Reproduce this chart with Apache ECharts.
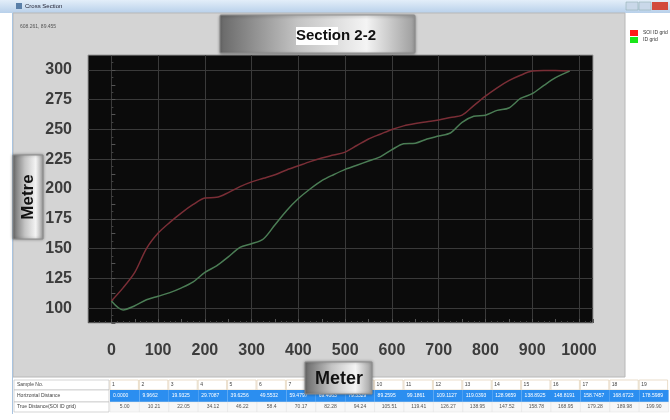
<!DOCTYPE html>
<html><head><meta charset="utf-8">
<script src="https://cdn.jsdelivr.net/npm/echarts@6/dist/echarts.min.js"></script>
<style>html,body{margin:0;padding:0;background:#fff}#c{width:670px;height:420px}</style>
</head><body><div id="c"></div>
<script>
// ---- data ----
const distance = [0,25,50,75,100,125,150,175,200,225,250,275,300,325,350,375,400,425,450,475,500,525,550,575,600,625,650,675,700,725,750,775,800,825,850,875,900,925,950,980];
const redValues = [106,117,130,150,163,172,180,187,192.5,193,197,202,206,209,212,216,219.5,223,226,228.5,231,236.5,242,246,250,253,255,256.5,258,260,262,270,278,285,291,295.5,299,299.5,299.5,299];
const greenValues = [106,98.5,102,107,110,113,117,122,130,135.5,143,151,154,158,170,182,192,200,207,212,216.5,220,223.5,227,233,238,238.5,242,244.5,247,256,261,262,266,268,276,280,287,293.5,299];
const seriesNames = ['SOI ID grid','ID grid'];
const xTicks = [0,100,200,300,400,500,600,700,800,900,1000];
const yTicks = [100,125,150,175,200,225,250,275,300];
const sampleNo = ['1','2','3','4','5','6','7','8','9','10','11','12','13','14','15','16','17','18','19'];
const horizDist = ['0.0000','9.9662','19.9325','29.7087','39.6256','49.5532','59.4797','69.4063','79.3329','89.2595','99.1861','109.1127','119.0393','128.9659','138.8925','148.8191','158.7457','168.6723','178.5989'];
const trueDist = ['5.00','10.21','22.05','34.12','46.22','58.4','70.17','82.28','94.24','105.51','119.41','126.27','138.95','147.52','158.78','168.95','179.28','189.98','199.90'];
const rowLabels = ['Sample No.','Horizontal Distance','True Distance(SOI ID grid)'];

const G = echarts.graphic;
function btnGrad(){
  return new G.LinearGradient(0,0,1,0,[
    {offset:0,color:'#686868'},{offset:0.4,color:'#c4c4c4'},
    {offset:0.75,color:'#f4f4f4'},{offset:1,color:'#9c9c9c'}]);
}
const els = [];
// window title bar
els.push({type:'rect',z:-10,shape:{x:0,y:0,width:670,height:13},
  style:{fill:new G.LinearGradient(0,0,0,1,[{offset:0,color:'#e3eef9'},{offset:1,color:'#b8d0ea'}])}});
els.push({type:'rect',z:-9,shape:{x:16,y:3,width:6,height:6},style:{fill:'#5a7fa8'}});
els.push({type:'text',z:-9,x:25,y:6.5,style:{text:'Cross Section',fontSize:6,fill:'#223',verticalAlign:'middle',fontFamily:'Liberation Sans'}});
els.push({type:'rect',z:-9,shape:{x:626,y:2,width:12,height:8},style:{fill:'#c9d8e9',stroke:'#8aa',lineWidth:0.5}});
els.push({type:'rect',z:-9,shape:{x:639,y:2,width:12,height:8},style:{fill:'#c9d8e9',stroke:'#8aa',lineWidth:0.5}});
els.push({type:'rect',z:-9,shape:{x:652,y:2,width:16,height:8},style:{fill:'#d24a3c'}});
// window left border
els.push({type:'line',z:-9,shape:{x1:12.5,y1:13,x2:12.5,y2:414},style:{stroke:'#a9c4e0',lineWidth:1}});
// grey panel
els.push({type:'rect',z:-10,shape:{x:13,y:13,width:612,height:364},style:{fill:'#d4d4d4',stroke:'#b8b8b8',lineWidth:1}});
els.push({type:'text',z:-9,x:20,y:27,style:{text:'608.261, 89.455',fontSize:5,fill:'#555',verticalAlign:'middle',fontFamily:'Liberation Sans'}});
// title button
els.push({type:'rect',z:50,shape:{x:220,y:15,width:195,height:38,r:1},
  style:{fill:btnGrad(),stroke:'#8c8c8c',lineWidth:1,shadowBlur:3,shadowColor:'rgba(0,0,0,0.35)',shadowOffsetY:1}});
els.push({type:'rect',z:51,shape:{x:296,y:27,width:42,height:18},style:{fill:'#ffffff'}});
els.push({type:'text',z:52,x:336,y:36,style:{text:'Section 2-2',fontSize:15,fontWeight:'bold',fill:'#111',align:'center',verticalAlign:'middle',fontFamily:'Liberation Sans'}});
// Metre button
els.push({type:'rect',z:50,shape:{x:13,y:155,width:30,height:84},
  style:{fill:btnGrad(),stroke:'#8c8c8c',lineWidth:1,shadowBlur:3,shadowColor:'rgba(0,0,0,0.35)'}});
els.push({type:'text',z:52,x:28,y:197,rotation:Math.PI/2,style:{text:'Metre',fontSize:17,fontWeight:'bold',fill:'#111',align:'center',verticalAlign:'middle',fontFamily:'Liberation Sans'}});
// table
const rowTop = [380,390,402], rowH = [10,12,10];
const colX0 = 110, colW = 29.4;
for (let r=0;r<3;r++){
  els.push({type:'rect',z:20,shape:{x:14,y:rowTop[r],width:95,height:rowH[r]},style:{fill:'#fff',stroke:'#b9b9b9',lineWidth:0.6}});
  els.push({type:'text',z:21,x:17,y:rowTop[r]+rowH[r]/2,style:{text:rowLabels[r],fontSize:5,fill:'#444',verticalAlign:'middle',fontFamily:'Liberation Sans'}});
}
for (let i=0;i<sampleNo.length;i++){
  const x = colX0 + i*colW;
  els.push({type:'rect',z:20,shape:{x:x,y:rowTop[0],width:colW-1,height:rowH[0]},style:{fill:'#fff',stroke:'#dcc7a8',lineWidth:0.6}});
  els.push({type:'text',z:21,x:x+2,y:rowTop[0]+rowH[0]/2,style:{text:sampleNo[i],fontSize:5,fill:'#444',verticalAlign:'middle',fontFamily:'Liberation Sans'}});
  els.push({type:'rect',z:20,shape:{x:x,y:rowTop[1],width:colW,height:rowH[1]},style:{fill:'#2b8ef0'}});
  els.push({type:'text',z:21,x:x+3,y:rowTop[1]+rowH[1]/2,style:{text:horizDist[i],fontSize:5,fill:'#fff',verticalAlign:'middle',fontFamily:'Liberation Sans'}});
  els.push({type:'rect',z:20,shape:{x:x,y:rowTop[2],width:colW,height:rowH[2]},style:{fill:'#f7f7f7',stroke:'#e2e2e2',lineWidth:0.5}});
  els.push({type:'text',z:21,x:x+colW/2,y:rowTop[2]+rowH[2]/2,style:{text:trueDist[i],fontSize:5,fill:'#555',align:'center',verticalAlign:'middle',fontFamily:'Liberation Sans'}});
}
// Meter button
els.push({type:'rect',z:50,shape:{x:305,y:362,width:67,height:32},
  style:{fill:btnGrad(),stroke:'#8c8c8c',lineWidth:1,shadowBlur:3,shadowColor:'rgba(0,0,0,0.35)'}});
els.push({type:'text',z:52,x:339,y:379,style:{text:'Meter',fontSize:18,fontWeight:'bold',fill:'#111',align:'center',verticalAlign:'middle',fontFamily:'Liberation Sans'}});

const gridColors = ['rgba(0,0,0,0)','#3a3a3a'];
const labelStyle = {color:'#3c3c3c',fontSize:16,fontWeight:'bold',fontFamily:'Liberation Sans'};

const chart = echarts.init(document.getElementById('c'));
chart.setOption({
  backgroundColor:'#ffffff',
  animation:false,
  graphic:{elements:els},
  legend:{
    orient:'vertical',left:625,top:25,itemWidth:8,itemHeight:6,itemGap:1,icon:'rect',
    textStyle:{fontSize:5,color:'#333',fontFamily:'Liberation Sans'},
    data:[{name:seriesNames[0],itemStyle:{color:'#ff1a1a'}},{name:seriesNames[1],itemStyle:{color:'#19e619'}}]
  },
  grid:{left:88,top:55,width:505,height:268,show:true,backgroundColor:'#0b0b0b',borderColor:'#9a9a9a',borderWidth:1,containLabel:false},
  xAxis:{
    type:'value',min:-50,max:1030,interval:50,
    axisLine:{show:false},
    axisTick:{show:true,inside:true,length:4,lineStyle:{color:'#555'}},
    minorTick:{show:true,splitNumber:4,length:2,lineStyle:{color:'#444'}},
    splitLine:{show:true,lineStyle:{color:gridColors,width:1}},
    axisLabel:{...labelStyle,margin:20,formatter:v=>xTicks.includes(v)?String(v):''}
  },
  yAxis:{
    type:'value',min:87.5,max:312.5,interval:12.5,
    axisLine:{show:false},
    axisTick:{show:true,inside:true,length:4,lineStyle:{color:'#555'}},
    minorTick:{show:true,splitNumber:2,length:2,lineStyle:{color:'#444'}},
    splitLine:{show:true,lineStyle:{color:gridColors,width:1}},
    axisLabel:{...labelStyle,margin:16,formatter:v=>yTicks.includes(v)?String(v):''}
  },
  series:[
    {name:seriesNames[0],type:'line',showSymbol:false,smooth:0.3,
     data:distance.map((d,i)=>[d,redValues[i]]),lineStyle:{color:'#7a2e36',width:1.5},itemStyle:{color:'#7a2e36'}},
    {name:seriesNames[1],type:'line',showSymbol:false,smooth:0.3,
     data:distance.map((d,i)=>[d,greenValues[i]]),lineStyle:{color:'#4b7d55',width:1.5},itemStyle:{color:'#4b7d55'}}
  ]
});
</script></body></html>
